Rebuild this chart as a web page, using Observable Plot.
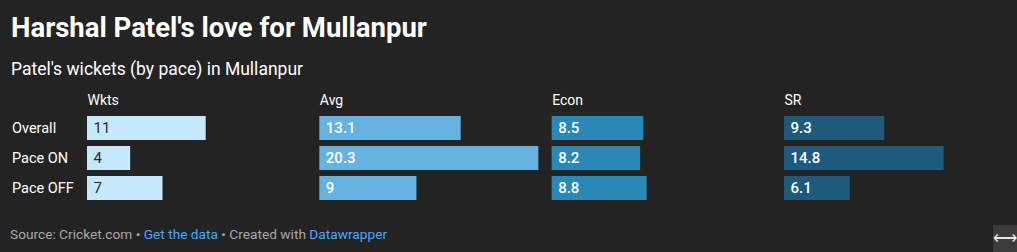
<!DOCTYPE html>
<html>
<head>
<meta charset="utf-8">
<script src="https://cdn.jsdelivr.net/npm/d3@7"></script>
<script src="https://cdn.jsdelivr.net/npm/@observablehq/plot@0.6"></script>
<style>
  html, body { margin: 0; padding: 0; }
  body { width: 1017px; height: 252px; background: #232323; font-family: Roboto, "Noto Sans", sans-serif; position: relative; overflow: hidden; }
  #title { position: absolute; left: 11px; top: 13px; font-size: 27.5px; line-height: 30px; font-weight: 700; color: #fff; white-space: nowrap; }
  #subtitle { position: absolute; left: 11px; top: 58.5px; font-size: 17.5px; line-height: 20px; color: #fff; white-space: nowrap; }
  #chart { position: absolute; left: 0; top: 88px; }
  #footer { position: absolute; left: 10px; top: 226px; font-size: 13.7px; line-height: 16px; color: #a8a8a8; white-space: nowrap; }
  #footer a { color: #4aa8ff; text-decoration: none; }
  #resize { position: absolute; left: 993px; top: 225px; width: 24px; height: 27px; background: #3c3c3c; color: #e6e6e6; font-size: 17px; line-height: 27px; text-align: center; }
</style>
</head>
<body>
<div id="title">Harshal Patel's love for Mullanpur</div>
<div id="subtitle">Patel's wickets (by pace) in Mullanpur</div>
<div id="chart"></div>
<div id="footer">Source: Cricket.com • <a>Get the data</a> • Created with <a>Datawrapper</a></div>
<div id="resize">⟷</div>
<script>
const rows = ["Overall", "Pace ON", "Pace OFF"];
const metrics = ["Wkts", "Avg", "Econ", "SR"];
const wkts = [11, 4, 7];
const avg = [13.1, 20.3, 9];
const econ = [8.5, 8.2, 8.8];
const sr = [9.3, 14.8, 6.1];
const barColors = ["#c6e9fd", "#66b2e1", "#2a88b6", "#1e5a7b"];

const series = [wkts, avg, econ, sr];
const data = [];
metrics.forEach((m, j) => rows.forEach((r, i) => data.push({metric: m, row: r, value: series[j][i]})));
const isW = d => d.metric === "Wkts";

const chart = Plot.plot({
  width: 1017,
  height: 122,
  marginLeft: 87,
  marginRight: 14,
  marginTop: 25,
  marginBottom: 7,
  style: {background: "transparent", color: "#fff", fontFamily: "Roboto, sans-serif", fontSize: "14px"},
  fx: {domain: metrics, paddingInner: 0.0574, paddingOuter: 0, round: false, axis: null, label: null},
  x: {domain: [0, 20.3], axis: null},
  y: {domain: rows, paddingInner: 0.2, paddingOuter: 0.1, round: false, label: null},
  color: {domain: metrics, range: barColors},
  marks: [
    Plot.barX(data, {fx: "metric", y: "row", x: "value", fill: "metric"}),
    Plot.text(data.filter(isW), {fx: "metric", y: "row", x: 0, text: d => String(d.value), textAnchor: "start", dx: 6, fill: "#2a2a2a", fontSize: 15}),
    Plot.text(data.filter(d => !isW(d)), {fx: "metric", y: "row", x: 0, text: d => String(d.value), textAnchor: "start", dx: 6, fill: "#fff", fontSize: 15, fontWeight: 500}),
    Plot.text(metrics, {fx: d => d, text: d => d, frameAnchor: "top-left", lineAnchor: "middle", dy: -12.5, textAnchor: "start", fill: "#fff", fontSize: 14}),
    Plot.axisY({tickSize: 0, tickPadding: 0, textAnchor: "start", dx: -75.5, fontSize: 14.5, fill: "#fff", label: null})
  ]
});
document.getElementById("chart").appendChild(chart);
</script>
</body>
</html>
